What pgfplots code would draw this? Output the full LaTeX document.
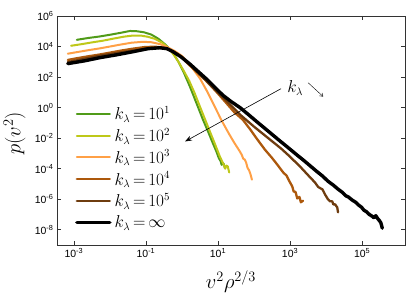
\documentclass[border=0pt]{standalone}
\usepackage{fontspec}
\usepackage{pgfplots}
\pgfplotsset{compat=1.18}
\usetikzlibrary{arrows.meta}
\newfontfamily\helv{Liberation Sans}
\definecolor{cA}{RGB}{80,155,25}
\definecolor{cB}{RGB}{190,200,25}
\definecolor{cC}{RGB}{255,160,70}
\definecolor{cD}{RGB}{172,88,12}
\definecolor{cE}{RGB}{110,60,15}
\newcommand{\tk}[1]{\helv 10\textsuperscript{#1}}
\begin{document}
\begin{tikzpicture}
\begin{axis}[
  at={(0,0)}, anchor=south west,
  width=348bp, height=229bp, scale only axis,
  xmin=-3.47, xmax=6.19, ymin=-9, ymax=6,
  xtick={-3,-1,1,3,5},
  xticklabels={\tk{-3},\tk{-1},\tk{1},\tk{3},\tk{5}},
  ytick={-8,-6,-4,-2,0,2,4,6},
  yticklabels={\tk{-8},\tk{-6},\tk{-4},\tk{-2},\tk{0},\tk{2},\tk{4},\tk{6}},
  tick label style={font=\fontsize{10.5}{11}\selectfont},
  tick align=inside, major tick length=4bp,
  axis line style={black!80, line width=0.6pt},
  tick style={black!80, line width=0.5pt},
  xlabel={$v^2\rho^{2/3}$}, ylabel={$p(v^2)$},
  label style={font=\fontsize{22}{22}\selectfont},
  xlabel style={at={(axis description cs:0.5,-0.16)}, anchor=center},
  ylabel style={at={(axis description cs:-0.122,0.487)}, anchor=center},
  legend style={draw=none, fill=none, at={(axis description cs:0.043,0.04)}, anchor=south west,
     font=\fontsize{16}{16}\selectfont, row sep=0pt, column sep=3bp,
     nodes={inner sep=0pt, minimum height=21.8bp}},
  legend cell align=left,
  legend image code/.code={\draw[#1] (0bp,0bp) -- (33bp,0bp);},
  every axis plot/.append style={line join=round, line cap=round},
]
\addplot[cA, line width=2bp] coordinates {(-2.92,4.44) (-2.6,4.56) (-2.28,4.66) (-2.0,4.77) (-1.7,4.9) (-1.44,5.02) (-1.25,5.0) (-1.05,4.93) (-0.85,4.78) (-0.65,4.5) (-0.45,4.1) (-0.25,3.59) (-0.1,3.0) (0.05,2.3) (0.22,1.37) (0.4,0.3) (0.58,-0.78) (0.72,-1.55) (0.85,-2.3) (0.95,-2.85) (1.02,-3.3) (1.07,-3.5) (1.1,-3.75) (1.13,-3.62) (1.16,-3.7) (1.19,-3.98)};
\addlegendentry{$k_\lambda\,{=}\,10^1$}
\addplot[cB, line width=2bp] coordinates {(-3.08,4.05) (-2.8,4.15) (-2.5,4.27) (-2.2,4.38) (-1.9,4.52) (-1.6,4.65) (-1.36,4.72) (-1.15,4.72) (-0.95,4.64) (-0.75,4.5) (-0.55,4.25) (-0.4,3.95) (-0.25,3.53) (-0.1,3.0) (0.05,2.4) (0.2,1.75) (0.35,0.95) (0.5,0.05) (0.72,-1.25) (0.9,-2.3) (1.05,-3.2) (1.15,-3.7) (1.2,-4.0) (1.23,-3.8) (1.27,-3.85) (1.31,-4.25)};
\addlegendentry{$k_\lambda\,{=}\,10^2$}
\addplot[cC, line width=2bp] coordinates {(-3.17,3.53) (-2.9,3.64) (-2.6,3.76) (-2.28,3.88) (-2.0,4.0) (-1.7,4.13) (-1.4,4.25) (-1.08,4.31) (-0.85,4.28) (-0.6,4.15) (-0.4,3.95) (-0.2,3.7) (0.0,3.38) (0.15,3.0) (0.3,2.55) (0.5,1.9) (0.7,1.05) (0.9,0.1) (1.1,-0.85) (1.3,-1.7) (1.45,-2.3) (1.6,-2.85) (1.66,-3.1) (1.7,-3.35) (1.74,-3.4) (1.78,-3.6) (1.82,-3.95) (1.86,-4.1) (1.9,-4.35) (1.94,-4.72)};
\addlegendentry{$k_\lambda\,{=}\,10^3$}
\addplot[cD, line width=2.3bp] coordinates {(-3.17,3.12) (-2.9,3.24) (-2.6,3.36) (-2.28,3.48) (-2.0,3.6) (-1.7,3.73) (-1.36,3.86) (-1.05,3.96) (-0.75,3.99) (-0.5,3.92) (-0.25,3.68) (-0.03,3.33) (0.22,2.75) (0.45,2.25) (0.69,1.72) (0.95,1.05) (1.2,0.38) (1.45,-0.3) (1.69,-0.8) (1.9,-1.45) (2.08,-2.05) (2.3,-2.75) (2.5,-3.3) (2.65,-3.75) (2.81,-4.25) (2.9,-4.45) (2.97,-4.78) (3.06,-5.16) (3.1,-5.5) (3.15,-5.52) (3.2,-5.95) (3.26,-5.85) (3.3,-6.2) (3.36,-6.1)};
\addlegendentry{$k_\lambda\,{=}\,10^4$}
\addplot[cE, line width=2.3bp] coordinates {(-3.17,2.98) (-2.7,3.2) (-2.28,3.40) (-1.8,3.58) (-1.36,3.73) (-1.0,3.86) (-0.69,3.92) (-0.42,3.86) (-0.25,3.66) (-0.03,3.33) (0.22,2.81) (0.42,2.32) (0.64,1.83) (0.88,1.25) (1.11,0.72) (1.36,0.13) (1.61,-0.46) (2.0,-1.25) (2.44,-2.09) (2.75,-2.68) (3.0,-3.22) (3.3,-3.92) (3.56,-4.58) (3.69,-4.9) (3.78,-5.2) (3.9,-5.36) (3.97,-5.69) (4.05,-6.0) (4.11,-6.14) (4.17,-6.14) (4.2,-6.34) (4.25,-6.34) (4.31,-6.54) (4.33,-6.86)};
\addlegendentry{$k_\lambda\,{=}\,10^5$}
\addplot[black, line width=3.4bp] coordinates {(-3.17,2.88) (-2.69,3.07) (-2.28,3.27) (-1.81,3.46) (-1.36,3.66) (-0.94,3.86) (-0.61,3.92) (-0.42,3.86) (-0.25,3.66) (-0.03,3.33) (0.22,2.85) (0.44,2.38) (0.69,1.85) (0.92,1.3) (1.14,0.8) (1.36,0.4) (1.61,0.0) (1.85,-0.47) (2.08,-0.93) (2.35,-1.46) (2.67,-2.09) (2.95,-2.63) (3.2,-3.12) (3.4,-3.5) (3.56,-3.82) (3.75,-4.2) (3.9,-4.48) (4.05,-4.82) (4.2,-5.08) (4.32,-5.32) (4.45,-5.55) (4.55,-5.78) (4.62,-5.86) (4.72,-6.05) (4.82,-6.2) (4.9,-6.38) (4.98,-6.52) (5.05,-6.72) (5.12,-6.82) (5.2,-7.0) (5.28,-7.12) (5.33,-7.22) (5.38,-7.08) (5.44,-7.3) (5.48,-7.4) (5.52,-7.55) (5.56,-7.9)};
\addlegendentry{$k_\lambda\,{=}\,\infty$}
\draw[line width=0.6pt, -{Stealth[length=7bp,width=5bp]}] (axis cs:2.75,1.24) -- (axis cs:0.083,-2.22);
\node[anchor=base west, inner sep=0pt, font=\fontsize{16}{16}\selectfont] at (axis cs:2.92,0.98) {$k_\lambda$};
\draw[line width=0.4pt, -{Straight Barb[length=3bp,width=4bp]}] (axis cs:3.5,1.63) -- (axis cs:3.92,0.72);
\end{axis}
\pgfresetboundingbox
\path[use as bounding box] (-57bp,-56bp) rectangle (358bp,245bp);
\end{tikzpicture}
\end{document}
